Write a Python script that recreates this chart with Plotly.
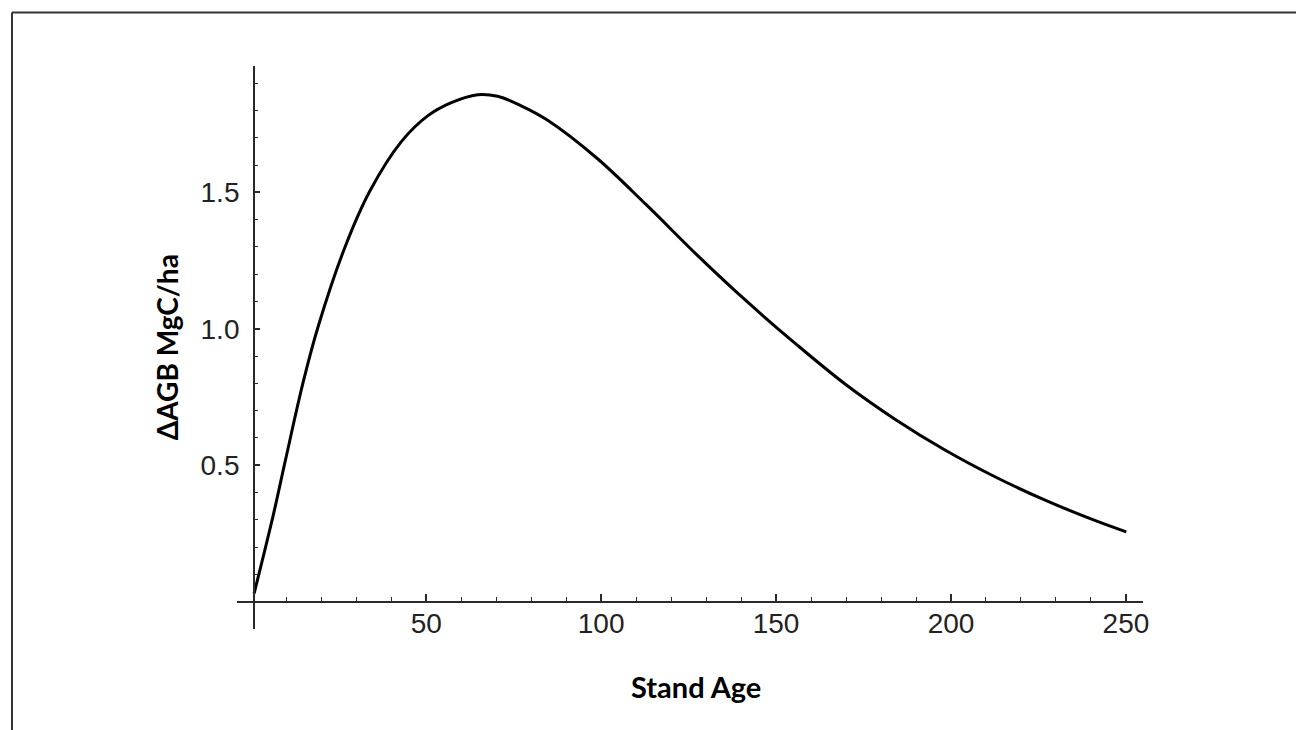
import plotly.graph_objects as go

# Data
stand_age = [0.8, 6.4, 9.7, 14.9, 19.2, 26.8, 33.9, 42.9, 50.5, 57.0, 64.7, 70.4, 77.0,
             84.6, 98.9, 113.1, 127.3, 141.5, 155.8, 170.0, 184.2, 198.4, 212.7,
             226.9, 241.1, 250.1]
delta_agb = [0.03, 0.324, 0.515, 0.808, 1.012, 1.300, 1.505, 1.686, 1.781, 1.828, 1.858, 1.852, 1.818,
             1.765, 1.624, 1.452, 1.272, 1.102, 0.943, 0.795, 0.667, 0.555, 0.457,
             0.372, 0.298, 0.256]

x_major = [50, 100, 150, 200, 250]
x_minor = [v for v in range(10, 251, 10) if v % 50 != 0]
y_major = [0.5, 1.0, 1.5]
y_minor = [round(v * 0.1, 1) for v in range(1, 20) if v % 5 != 0]

OFF = 8  # page body margin
W, H = 1304 - OFF, 730 - OFF
x_range = [-4.1, 254.8]
y_range = [-0.1, 1.963]
x_dom = [(238 - OFF) / W, (1148 - OFF) / W]
y_dom = [1 - (629 - OFF) / H, 1 - (66 - OFF) / H]
x_origin = 0.8  # where the vertical axis crosses

def x_to_paper(v):
    return x_dom[0] + (v - x_range[0]) / (x_range[1] - x_range[0]) * (x_dom[1] - x_dom[0])

def y_to_paper(v):
    return y_dom[0] + (v - y_range[0]) / (y_range[1] - y_range[0]) * (y_dom[1] - y_dom[0])

axis_color = "#2a2a2a"
tick_font = dict(family="Liberation Sans, Arial, sans-serif", size=28, color="#222222")
title_font = dict(family="Lato, Open Sans, sans-serif", size=28, color="black")

fig = go.Figure()
fig.add_trace(go.Scatter(x=stand_age, y=delta_agb, mode="lines",
                         line=dict(color="black", width=3, shape="spline", smoothing=1.0),
                         hoverinfo="skip", showlegend=False))

fig.update_layout(
    width=W, height=H,
    margin=dict(l=0, r=0, t=0, b=0),
    paper_bgcolor="white", plot_bgcolor="white",
    showlegend=False,
    xaxis=dict(domain=x_dom, range=x_range, anchor="free", position=y_to_paper(0),
               showgrid=False, zeroline=False, showline=True, linecolor=axis_color, linewidth=2,
               ticks="inside", ticklen=7, tickwidth=1.5, tickcolor=axis_color,
               tickmode="array", tickvals=x_major, ticktext=[str(v) for v in x_major],
               tickfont=tick_font, ticklabelstandoff=-3,
               minor=dict(tickvals=x_minor, ticks="inside", ticklen=4, tickwidth=1.2,
                          tickcolor=axis_color)),
    yaxis=dict(domain=y_dom, range=y_range, anchor="free", position=x_to_paper(x_origin),
               showgrid=False, zeroline=False, showline=True, linecolor=axis_color, linewidth=2,
               ticks="inside", ticklen=5, tickwidth=1.5, tickcolor=axis_color,
               tickmode="array", tickvals=y_major, ticktext=["0.5", "1.0", "1.5"],
               tickfont=tick_font, ticklabelstandoff=8,
               minor=dict(tickvals=y_minor, ticks="inside", ticklen=3, tickwidth=1.2,
                          tickcolor=axis_color)),
    shapes=[
        dict(type="line", xref="paper", yref="paper", x0=(12 - OFF) / W, x1=1,
             y0=1 - (12.5 - OFF) / H, y1=1 - (12.5 - OFF) / H,
             line=dict(color="#333333", width=2)),
        dict(type="line", xref="paper", yref="paper", x0=(12 - OFF) / W, x1=(12 - OFF) / W,
             y0=0, y1=1 - (12.5 - OFF) / H,
             line=dict(color="#333333", width=2)),
    ],
    annotations=[
        dict(text="<b>Stand Age</b>", xref="paper", yref="paper", x=(699 - OFF) / W,
             y=1 - (686 - OFF) / H,
             xanchor="center", yanchor="middle", showarrow=False,
             font=dict(title_font, size=29)),
        dict(text="<b>ΔAGB MgC/ha</b>", xref="paper", yref="paper", x=(168 - OFF) / W,
             y=1 - (347 - OFF) / H,
             xanchor="center", yanchor="middle", showarrow=False, textangle=-90,
             font=title_font),
    ],
)

fig.write_html("out.html")
